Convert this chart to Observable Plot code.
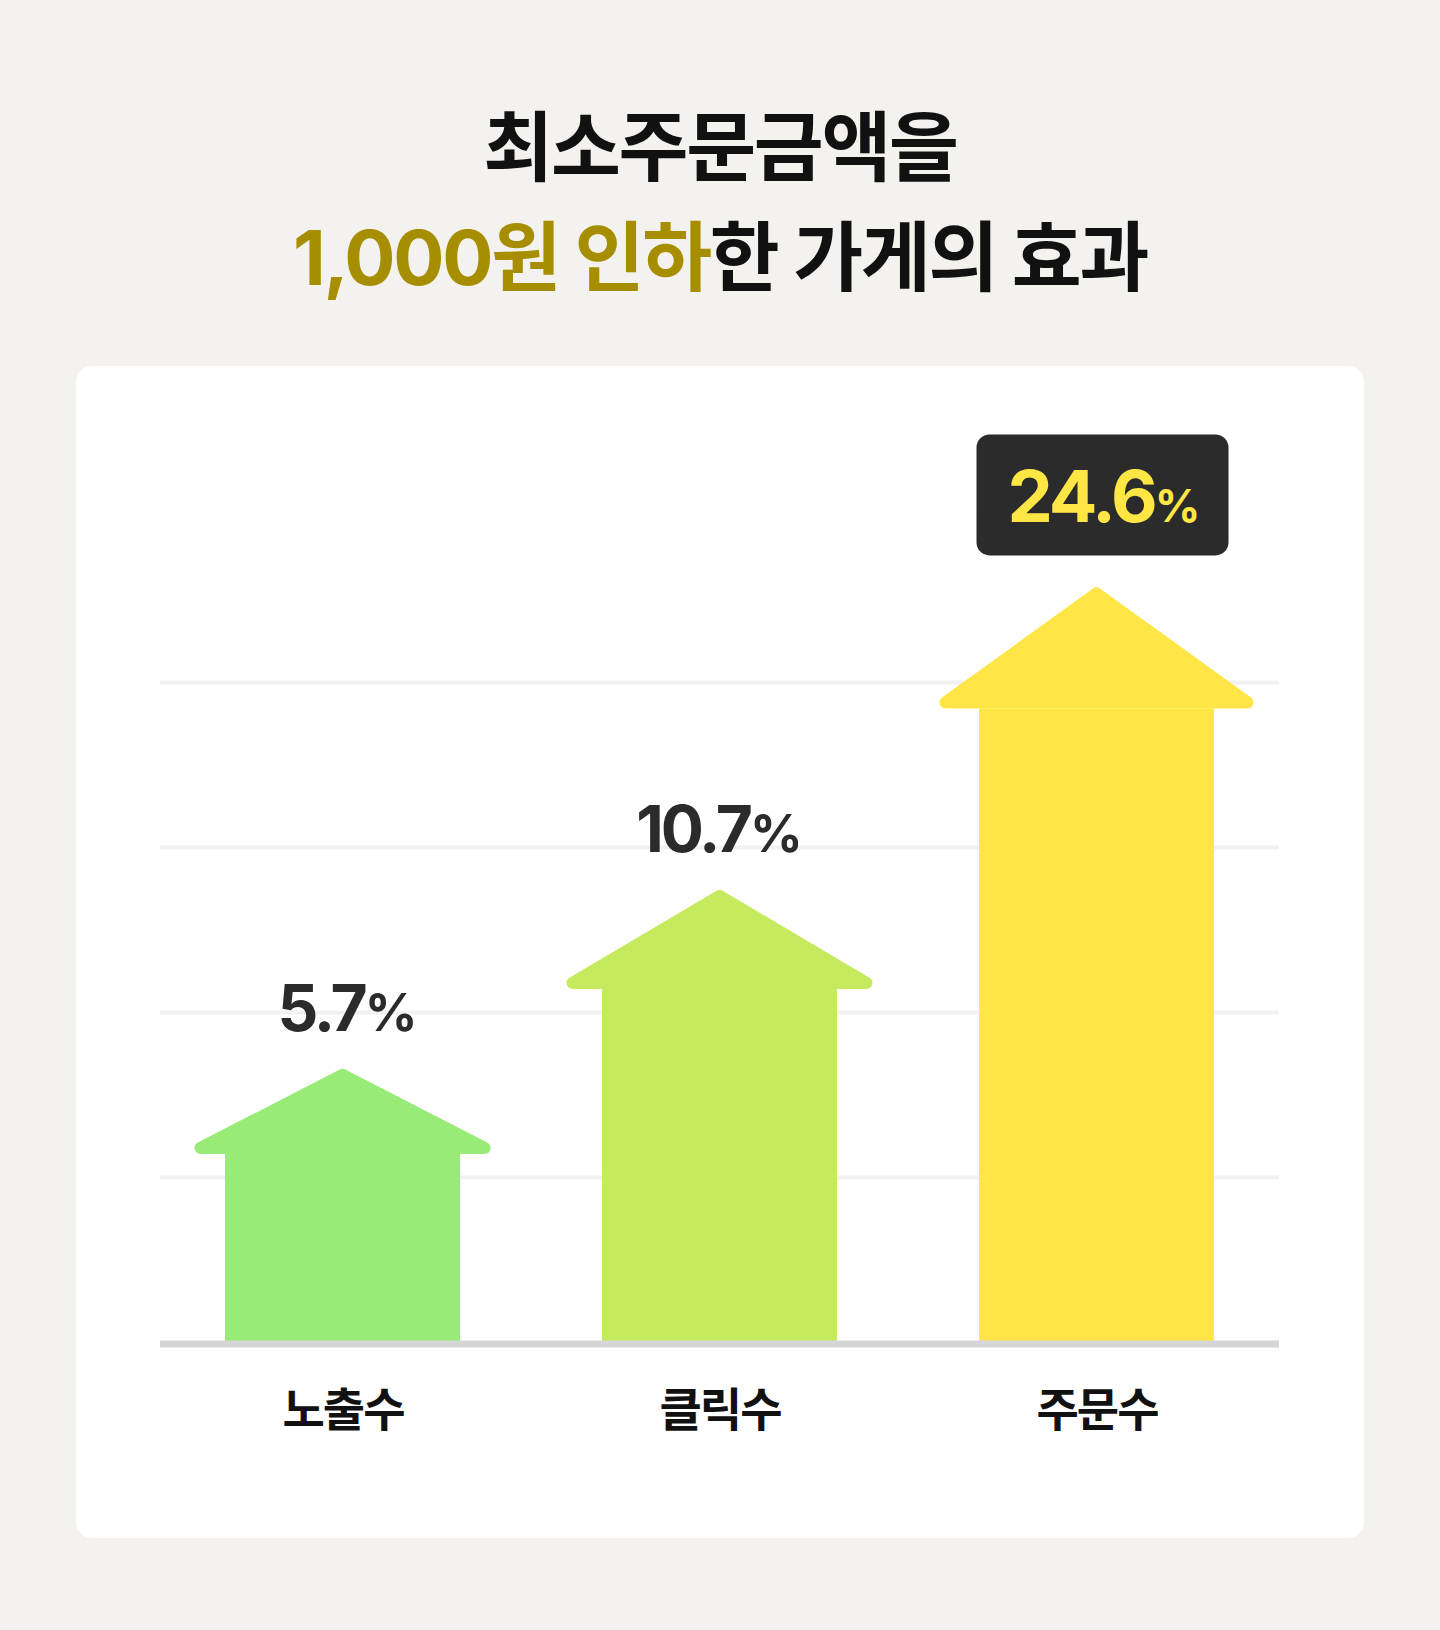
<!DOCTYPE html>
<html><head><meta charset="utf-8">
<script src="https://cdn.jsdelivr.net/npm/d3@7"></script>
<script src="https://cdn.jsdelivr.net/npm/@observablehq/plot@0.6"></script>
<style>
html,body{margin:0;padding:0;}
body{width:1440px;height:1630px;background:#f3f2ee;position:relative;overflow:hidden;font-family:Inter,"Noto Sans CJK KR",sans-serif;}
.title{position:absolute;left:0;width:1440px;text-align:center;font-weight:700;font-size:76px;letter-spacing:-0.03em;line-height:110px;color:#111;white-space:nowrap;}
.card{position:absolute;left:76px;top:366px;width:1288px;height:1172px;background:#fff;border-radius:16px;overflow:hidden;}
.card svg{display:block;}
</style></head>
<body>
<div class="title" style="top:92px">최소주문금액을</div>
<div class="title" style="top:202px"><span style="color:#a68e00">1,000원 인하</span>한 가게의 효과</div>
<div class="card" id="card"></div>
<script>
// ---- data ----
const categories = ["노출수", "클릭수", "주문수"];
const values = [5.7, 10.7, 24.6];            // reported increase (%)
const drawnValues = [5.7, 10.7, 19.2];       // arrow stem height as drawn (third arrow is shortened in the original)
const valueLabels = ["5.7%", "10.7%", "24.6%"];
const gridTicks = [5, 10, 15, 20];

// ---- styles ----
const barColors = ["#98eb76", "#c6ea5e", "#ffe646"];
const headHalfWidth = [148, 153, 157];
const headHeight = [88, 102, 124];
const labelGap = 35;
const ns = "http://www.w3.org/2000/svg";

const data = categories.map((c, i) => ({category: c, value: values[i], drawn: drawnValues[i], label: valueLabels[i]}));

function arrowHeads(index, scales, vals, dims, ctx, next) {
  const g = next(index, scales, vals, dims, ctx);
  const rects = Array.from(g.querySelectorAll("rect"));
  rects.forEach((r, k) => {
    const i = index[k];
    const x = +r.getAttribute("x"), w = +r.getAttribute("width"), y = +r.getAttribute("y");
    const cx = x + w / 2, hw = headHalfWidth[i], hh = headHeight[i], rr = 6;
    const p = document.createElementNS(ns, "path");
    p.setAttribute("d", `M${cx},${y - hh + rr * 1.5}L${cx + hw - rr},${y - rr}L${cx - hw + rr},${y - rr}Z`);
    const f = r.getAttribute("fill") || barColors[i];
    p.setAttribute("fill", f);
    p.setAttribute("stroke", f);
    p.setAttribute("stroke-width", 2 * rr);
    p.setAttribute("stroke-linejoin", "round");
    g.appendChild(p);
  });
  return g;
}

const pctRender = (size) => function(index, scales, vals, dims, ctx, next) {
  const g = next(index, scales, vals, dims, ctx);
  g.querySelectorAll("text").forEach(t => {
    const s = t.textContent;
    if (s.endsWith("%")) {
      t.textContent = s.slice(0, -1);
      const ts = document.createElementNS(ns, "tspan");
      ts.setAttribute("font-size", size);
      ts.textContent = "%";
      t.appendChild(ts);
    }
  });
  return g;
};

const boxSymbol = {draw(c) {
  const w = 126, h = 60.5, r = 13;
  c.moveTo(-w + r, -h); c.lineTo(w - r, -h); c.arcTo(w, -h, w, -h + r, r);
  c.lineTo(w, h - r); c.arcTo(w, h, w - r, h, r);
  c.lineTo(-w + r, h); c.arcTo(-w, h, -w, h - r, r);
  c.lineTo(-w, -h + r); c.arcTo(-w, -h, -w + r, -h, r); c.closePath();
}};

const plainLabels = [0, 1].map(i => Plot.text([data[i]], {
  x: "category", y: "drawn", text: "label",
  dx: i === 0 ? 3 : -2,
  dy: -(headHeight[i] + labelGap), lineAnchor: "bottom",
  fontSize: 64, fontWeight: 700, fill: "#2b2b2b", fontFamily: "Inter",
  render: pctRender(52)
}));

const chart = Plot.plot({
  width: 1288, height: 1172,
  marginLeft: 78, marginRight: 79, marginTop: 151, marginBottom: 196,
  x: {type: "band", domain: categories, padding: 0},
  y: {domain: [0, 25], axis: null},
  color: {domain: categories, range: barColors},
  style: {background: "transparent", fontFamily: "Inter, 'Noto Sans CJK KR', sans-serif"},
  marks: [
    Plot.ruleY(gridTicks, {stroke: "#f1f1f1", strokeWidth: 4, insetLeft: 6, insetRight: 6}),
    Plot.barY(data, {x: "category", y: "drawn", fill: "category", insetLeft: 71, insetRight: 71, render: arrowHeads}),
    Plot.ruleY([0], {stroke: "#d6d6d6", strokeWidth: 7, dy: 1.5, insetLeft: 6, insetRight: 6}),
    Plot.axisX({tickSize: 0, tickPadding: 51, fontSize: 46, fontWeight: 700, color: "#111", label: null, fontFamily: "'Noto Sans CJK KR', sans-serif"}),
    ...plainLabels,
    Plot.dot([data[2]], {x: "category", y: "drawn", dx: 5.5, dy: -214, symbol: boxSymbol, r: 10, fill: "#2b2b2b", stroke: "none"}),
    Plot.text([data[2]], {x: "category", y: "drawn", text: "label", dx: 5.5, dy: -187, lineAnchor: "bottom",
      fontSize: 72, fontWeight: 700, fill: "#ffe645", fontFamily: "Inter", render: pctRender(45)})
  ]
});
d3.select(chart).selectAll('[aria-label="x-axis tick label"] text').style("letter-spacing", "-2px");
d3.select(chart).selectAll('text').filter(function(){ return /\d/.test(this.textContent); }).style("letter-spacing", "-3px");
document.getElementById("card").appendChild(chart);
</script>
</body></html>
